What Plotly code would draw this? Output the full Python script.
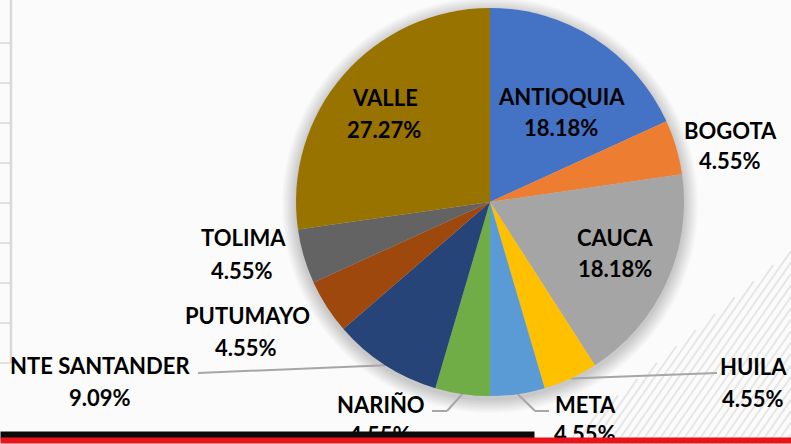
import math
import plotly.graph_objects as go

# ---------------- data ----------------
departments = ["ANTIOQUIA", "BOGOTA", "CAUCA", "HUILA", "META", "NARIÑO",
               "NTE SANTANDER", "PUTUMAYO", "TOLIMA", "VALLE"]
shares = [18.18, 4.55, 18.18, 4.55, 4.55, 4.55, 9.09, 4.55, 4.55, 27.27]
colors = ["#4472C4", "#ED7D31", "#A5A5A5", "#FFC000", "#5B9BD5", "#70AD47",
          "#264478", "#9E480E", "#636363", "#997300"]

# ---------------- layout constants (pixels) ----------------
W, H = 791, 444
CX, CY, R = 490, 202, 194

# label centres: (name_x, name_y, pct_x, pct_y)
label_pos = {
    "ANTIOQUIA": (561, 96, 561, 128),
    "BOGOTA": (730, 130, 730, 161),
    "CAUCA": (615, 237, 615, 268),
    "HUILA": (753, 366, 753, 398),
    "META": (585, 404, 585, 433),
    "NARIÑO": (381, 404, 380, 434),
    "NTE SANTANDER": (100, 365, 100, 397),
    "PUTUMAYO": (247, 315, 246, 347),
    "TOLIMA": (243, 238, 242, 270),
    "VALLE": (385, 97, 384, 129),
}
# leader line paths from slice edge (computed) to label (pixels)
leader_paths = {
    "HUILA": [(717, 373)],
    "META": [(535, 411), (549, 411)],
    "NARIÑO": [(447, 411), (432, 411)],
    "NTE SANTANDER": [(198, 373)],
}


def px(x):
    return x / W


def py(y):
    return 1 - y / H


fig = go.Figure()
fig.add_trace(go.Pie(
    labels=departments, values=shares, sort=False, direction="clockwise",
    rotation=0, marker=dict(colors=colors, line=dict(width=0)),
    textinfo="none", hoverinfo="skip", showlegend=False,
    domain=dict(x=[px(CX - R), px(CX + R)], y=[py(CY + R), py(CY - R)]),
))

shapes = []
# left gridlines
shapes.append(dict(type="line", xref="paper", yref="paper", x0=px(11), x1=px(11),
                   y0=py(0), y1=py(363), line=dict(color="#D9D9D9", width=2.5), layer="below"))
for k in range(9):
    yy = 43 + 40 * k
    shapes.append(dict(type="line", xref="paper", yref="paper", x0=px(0), x1=px(11),
                       y0=py(yy), y1=py(yy), line=dict(color="#D9D9D9", width=1.5), layer="below"))

# diagonal stripes bottom right
slope_s = 1.43
slope_b = 0.84
x0 = 560
while x0 < 1000:
    xe = (slope_s * x0 - slope_b * 560) / (slope_s - slope_b)
    ye = H - (xe - x0) * slope_s
    if xe > W:
        xe = W
        ye = H - (xe - x0) * slope_s
    if ye < H:
        shapes.append(dict(type="line", xref="paper", yref="paper",
                           x0=px(x0), y0=py(H), x1=px(xe), y1=py(ye),
                           line=dict(color="#E6E6E6", width=2), layer="below"))
    x0 += 8

# soft shadow around pie
for k in range(10, 0, -1):
    rr = R + k * 1.4
    shapes.append(dict(type="circle", xref="paper", yref="paper",
                       x0=px(CX - rr), x1=px(CX + rr), y0=py(CY + rr + 3), y1=py(CY - rr + 3),
                       fillcolor="rgba(0,0,0,0.02)", line=dict(width=0), layer="below"))

# leader lines from slice mid-edge
total = sum(shares)
cum = 0
for name, v in zip(departments, shares):
    mid = (cum + v / 2) / total * 2 * math.pi
    cum += v
    if name not in leader_paths:
        continue
    ex = CX + R * math.sin(mid)
    ey = CY - R * math.cos(mid)
    pts = [(ex, ey)] + leader_paths[name]
    for (a, b), (c, d) in zip(pts[:-1], pts[1:]):
        shapes.append(dict(type="line", xref="paper", yref="paper",
                           x0=px(a), y0=py(b), x1=px(c), y1=py(d),
                           line=dict(color="#A6A6A6", width=2), layer="below"))

annotations = []
font = dict(family="Lato", size=22, color="#000000", weight="bold")
for name, v in zip(departments, shares):
    nx, ny, qx, qy = label_pos[name]
    annotations.append(dict(text=name, x=px(nx), y=py(ny), xref="paper", yref="paper",
                            showarrow=False, xanchor="center", yanchor="middle", font=font))
    annotations.append(dict(text=f"{v:.2f}%", x=px(qx), y=py(qy), xref="paper", yref="paper",
                            showarrow=False, xanchor="center", yanchor="middle", font=font))

# bottom bars (drawn as boxes on top of text)
annotations.append(dict(text="", x=0, y=py(439), xref="paper", yref="paper", showarrow=False,
                        xanchor="left", yanchor="bottom", width=533, height=6,
                        bgcolor="#0A0A0A", borderpad=0, font=dict(size=1)))
annotations.append(dict(text="", x=0, y=0, xref="paper", yref="paper", showarrow=False,
                        xanchor="left", yanchor="bottom", width=W, height=5,
                        bgcolor="#E8141B", borderpad=0, font=dict(size=1)))

fig.update_layout(
    width=W, height=H, margin=dict(l=0, r=0, t=0, b=0),
    paper_bgcolor="#FBFBFB", plot_bgcolor="#FBFBFB",
    shapes=shapes, annotations=annotations, showlegend=False,
)
fig.write_html("out.html", config={"displayModeBar": False},
               post_script="document.body.style.margin='0';document.body.style.overflow='hidden';")
